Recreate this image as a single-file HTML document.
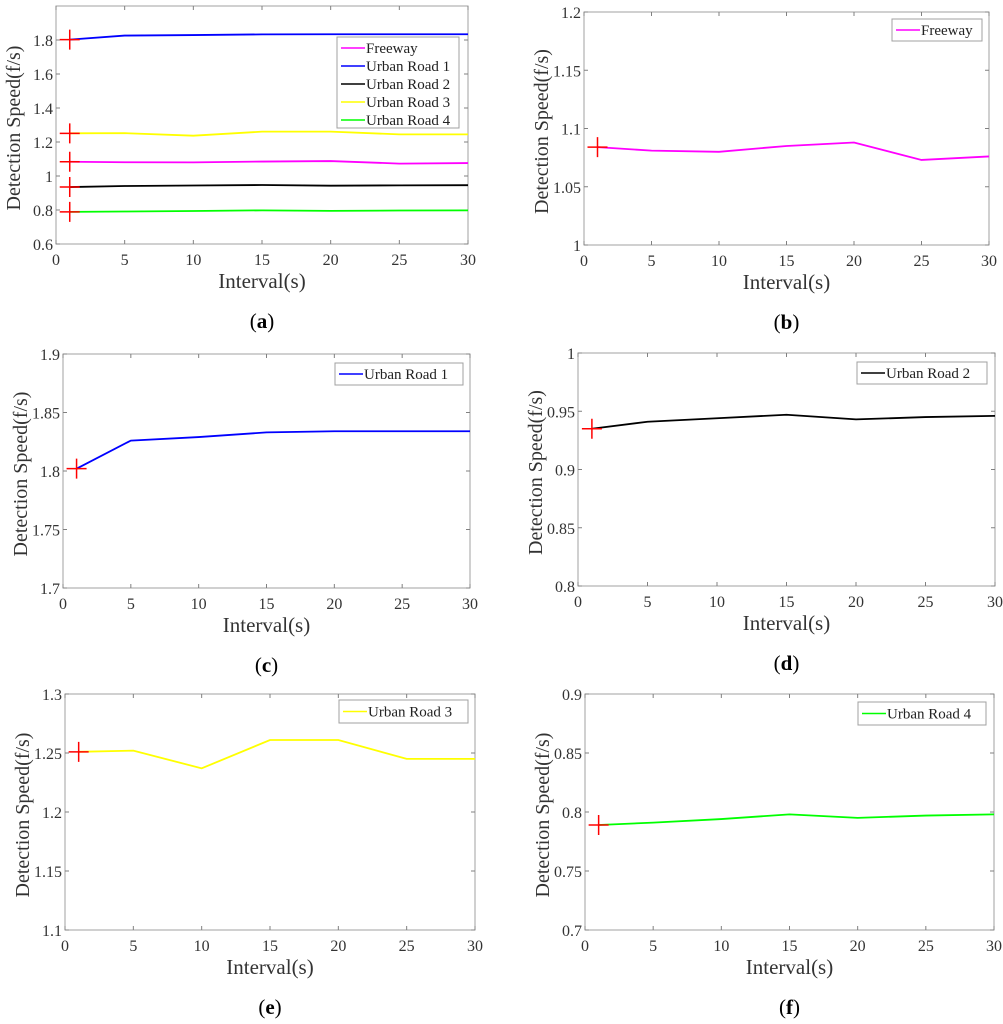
<!DOCTYPE html>
<html><head><meta charset="utf-8">
<style>
html,body{margin:0;padding:0;background:#fff;}
svg{display:block;font-family:"Liberation Serif",serif;}
</style></head>
<body>
<svg id="fig" width="1003" height="1024" viewBox="0 0 1003 1024" xmlns="http://www.w3.org/2000/svg"></svg>
<script>
const intervals = [1, 5, 10, 15, 20, 25, 30];
const freeway = [1.084, 1.081, 1.080, 1.085, 1.088, 1.073, 1.076];
const urban1 = [1.802, 1.826, 1.829, 1.833, 1.834, 1.834, 1.834];
const urban2 = [0.935, 0.941, 0.944, 0.947, 0.943, 0.945, 0.946];
const urban3 = [1.251, 1.252, 1.237, 1.261, 1.261, 1.245, 1.245];
const urban4 = [0.789, 0.791, 0.794, 0.798, 0.795, 0.797, 0.798];
const xTicks = [0, 5, 10, 15, 20, 25, 30];
const ticksA = ["0.6","0.8","1","1.2","1.4","1.6","1.8"];
const ticksB = ["1","1.05","1.1","1.15","1.2"];
const ticksC = ["1.7","1.75","1.8","1.85","1.9"];
const ticksD = ["0.8","0.85","0.9","0.95","1"];
const ticksE = ["1.1","1.15","1.2","1.25","1.3"];
const ticksF = ["0.7","0.75","0.8","0.85","0.9"];
const seriesNames = ["Freeway","Urban Road 1","Urban Road 2","Urban Road 3","Urban Road 4"];

const NS = "http://www.w3.org/2000/svg";
const fig = document.getElementById('fig');
function mk(tag, attrs, parent){
  const e = document.createElementNS(NS, tag);
  for (const k in attrs) e.setAttribute(k, attrs[k]);
  parent.appendChild(e);
  return e;
}
const colors = {"Freeway":"#ff00ff","Urban Road 1":"#0000ff","Urban Road 2":"#000000","Urban Road 3":"#ffff00","Urban Road 4":"#00ff00"};

function panel(id, box, ymin, ymax, yticks, series, legend, letter){
  const g = mk('g', {}, fig);
  
  
  const [x0, y0, x1, y1] = box;
  const sx = v => x0 + (v - 0) / 30 * (x1 - x0);
  const sy = v => y1 - (v - ymin) / (ymax - ymin) * (y1 - y0);
  const frame = mk('rect', {x:x0, y:y0, width:x1-x0, height:y1-y0, fill:'none', stroke:'#a0a0a0', 'stroke-width':1}, g);
  
  
  xTicks.forEach(t => {
    const x = sx(t);
    mk('line', {x1:x, x2:x, y1:y1, y2:y1-4, stroke:'#808080'}, g);
    mk('line', {x1:x, x2:x, y1:y0, y2:y0+4, stroke:'#808080'}, g);
    const tx = mk('text', {x:x, y:y1+21, 'text-anchor':'middle', 'font-size':16, fill:'#333'}, g);
    tx.textContent = t;
    
    
  });
  yticks.forEach(t => {
    const y = sy(parseFloat(t));
    mk('line', {x1:x0, x2:x0+4, y1:y, y2:y, stroke:'#808080'}, g);
    mk('line', {x1:x1, x2:x1-4, y1:y, y2:y, stroke:'#808080'}, g);
    const ty = mk('text', {x:x0-3, y:y+6, 'text-anchor':'end', 'font-size':16, fill:'#333'}, g);
    ty.textContent = t;
    
    
  });
  const xl = mk('text', {x:(x0+x1)/2, y:y1+44, 'text-anchor':'middle', 'font-size':21, fill:'#333'}, g);
  xl.textContent = 'Interval(s)';
  
  
  const yl = mk('text', {x:0, y:0, 'text-anchor':'middle', 'font-size':20, fill:'#333', transform:`translate(${x0-36},${(y0+y1)/2+3}) rotate(-90)`}, g);
  yl.textContent = 'Detection Speed(f/s)';
  
  
  series.forEach(s => {
    const pts = intervals.map((v, i) => sx(v) + ',' + sy(s.vals[i])).join(' ');
    const pl = mk('polyline', {points:pts, fill:'none', stroke:colors[s.name], 'stroke-width':1.8}, g);
    
    
    const mx = sx(intervals[0]), my = sy(s.vals[0]);
    const mkr = mk('path', {d:`M${mx-10},${my}H${mx+10}M${mx},${my-10}V${my+10}`, stroke:'#ff0000', 'stroke-width':1.5}, g);
    
    
  });
  const [lx, ly, lw, lh] = legend;
  const lg = mk('g', {}, g);
  
  
  mk('rect', {x:lx, y:ly, width:lw, height:lh, fill:'#fff', stroke:'#a0a0a0'}, lg);
  const rowH = series.length > 1 ? 18 : lh;
  series.forEach((s, i) => {
    const cy = ly + (series.length > 1 ? 11 + i*rowH : lh/2);
    mk('line', {x1:lx+4, x2:lx+28, y1:cy, y2:cy, stroke:colors[s.name], 'stroke-width':1.6}, lg);
    const t = mk('text', {x:lx+29, y:cy+5, 'font-size':15, fill:'#222'}, lg);
    t.textContent = s.name;
    
    
  });
  const lt = mk('text', {x:(x0+x1)/2, y:y1+84, 'text-anchor':'middle', 'font-size':21, fill:'#000'}, g);
  lt.innerHTML = '(<tspan font-weight="bold">' + letter + '</tspan>)';
  
  
}

panel('a', [56,6,468,244], 0.6, 2.0, ticksA, [
  {name:"Freeway", vals:freeway},{name:"Urban Road 1", vals:urban1},{name:"Urban Road 2", vals:urban2},
  {name:"Urban Road 3", vals:urban3},{name:"Urban Road 4", vals:urban4}], [337,37,122,91], 'a');
panel('b', [584,12,989,245], 1.0, 1.2, ticksB, [{name:"Freeway", vals:freeway}], [892,19,90,22], 'b');
panel('c', [63,354,470,588], 1.7, 1.9, ticksC, [{name:"Urban Road 1", vals:urban1}], [335,363,128,22], 'c');
panel('d', [578,353,995,586], 0.8, 1.0, ticksD, [{name:"Urban Road 2", vals:urban2}], [857,362,130,22], 'd');
panel('e', [65,694,475,930], 1.1, 1.3, ticksE, [{name:"Urban Road 3", vals:urban3}], [339,700,129,23], 'e');
panel('f', [585,694,994,930], 0.7, 0.9, ticksF, [{name:"Urban Road 4", vals:urban4}], [858,702,128,23], 'f');
</script>
</body></html>
